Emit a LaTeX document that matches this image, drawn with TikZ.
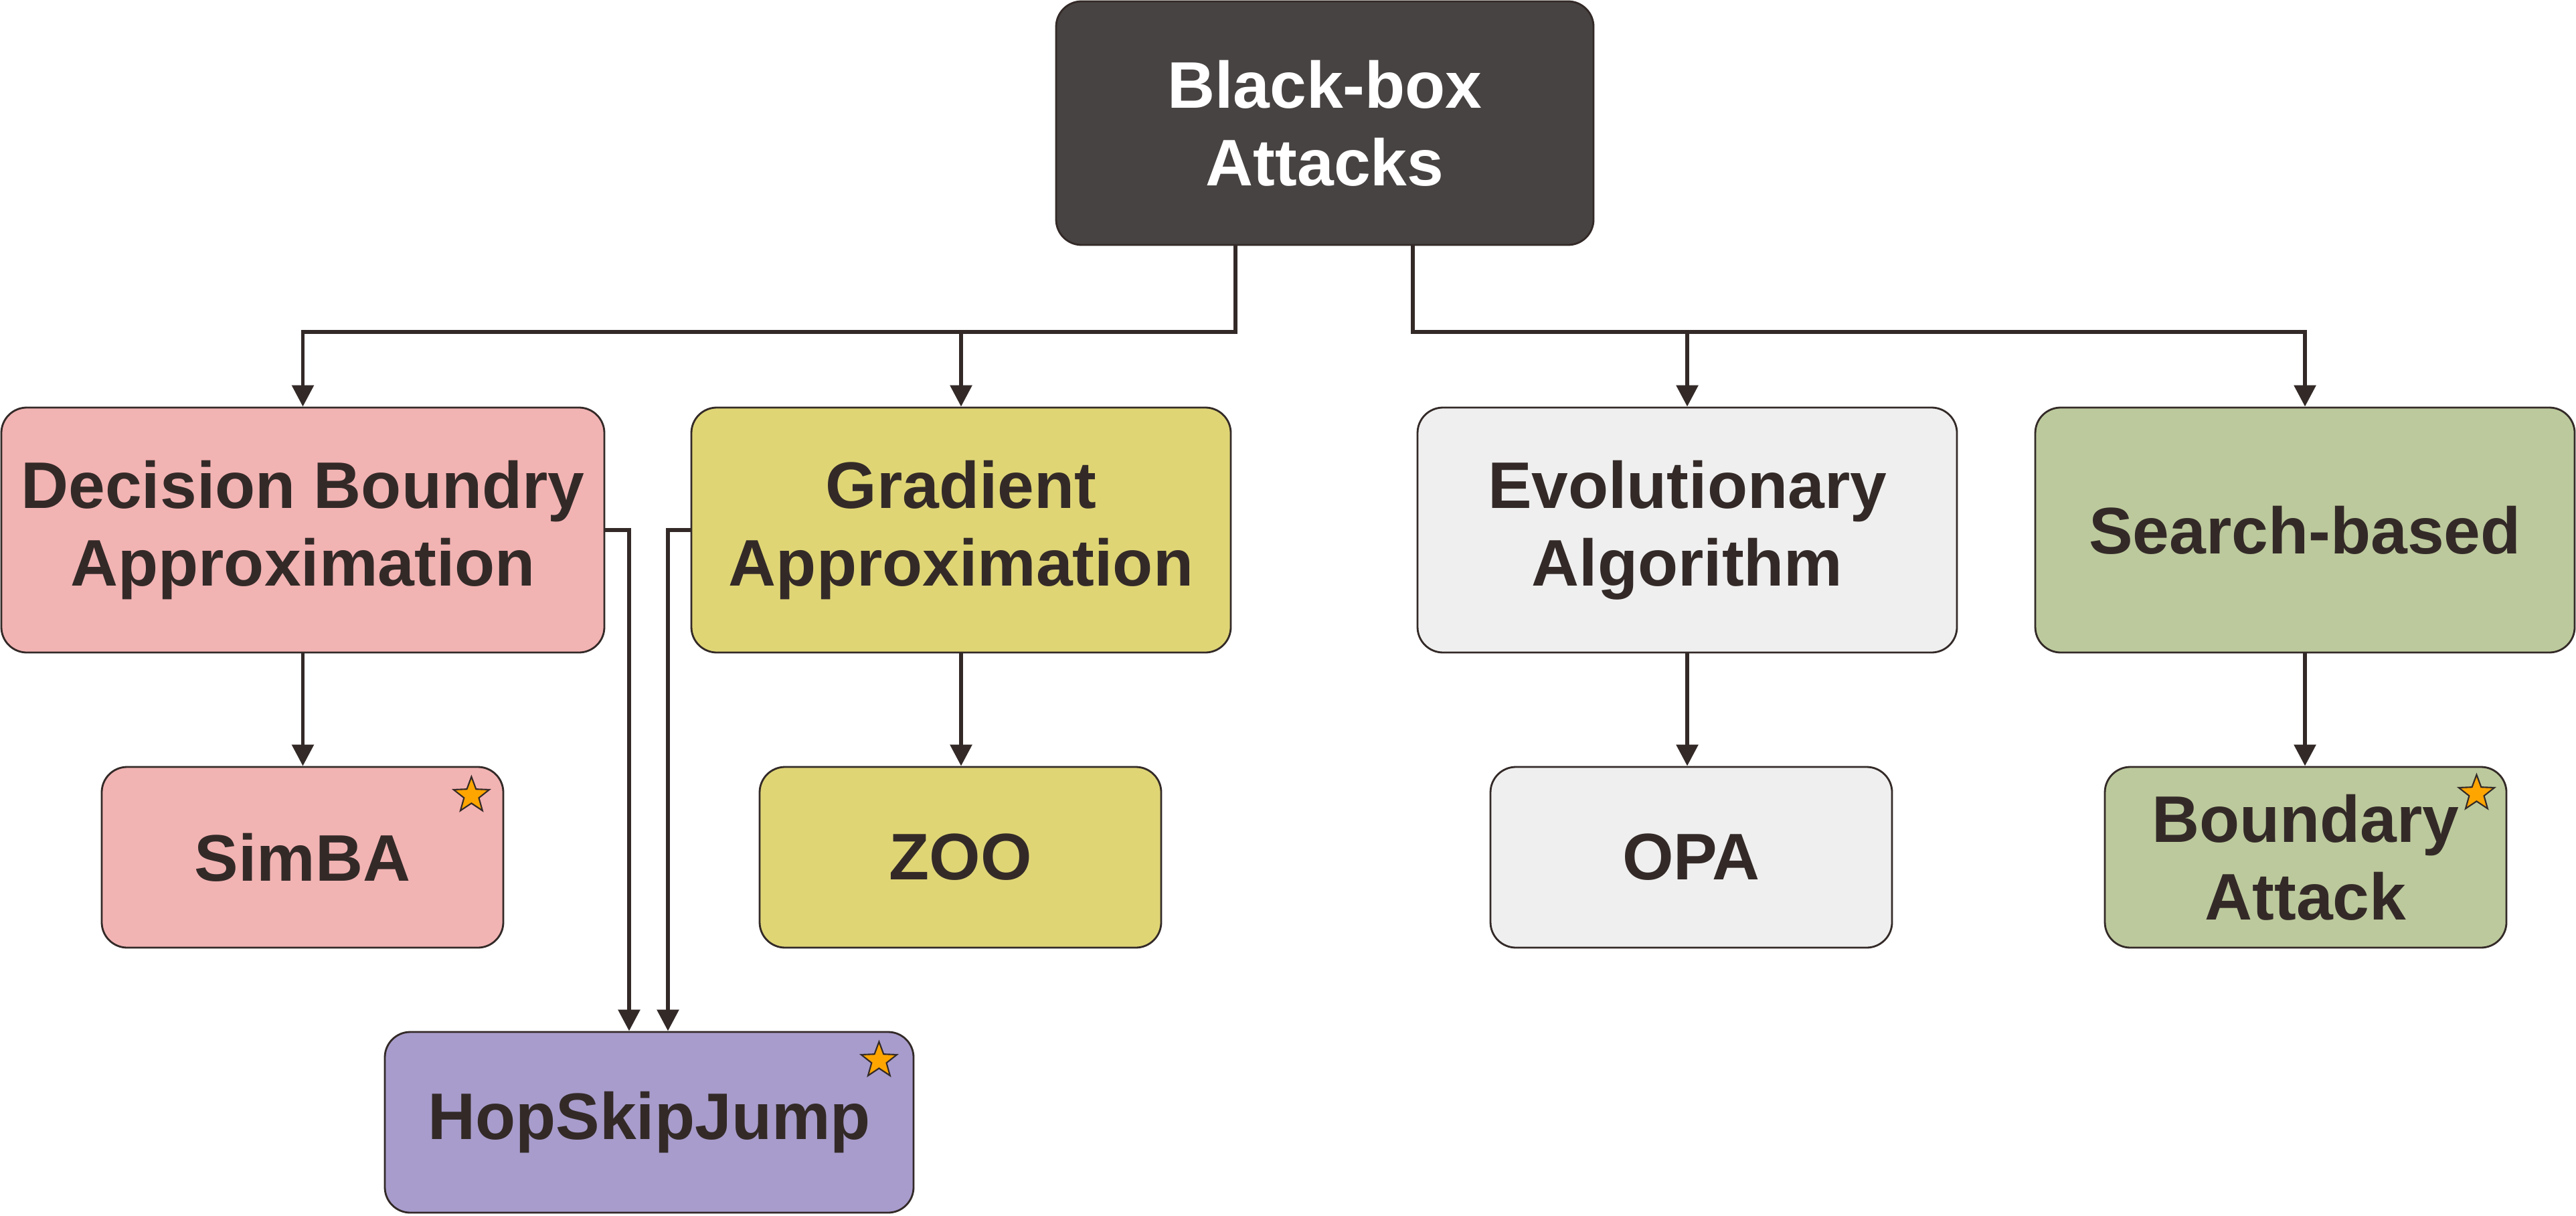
\documentclass[tikz,border=0pt]{standalone}
\usepackage{fontspec}
\setmainfont{Liberation Sans}
\usepackage{tikz}
\usetikzlibrary{arrows.meta,shapes.geometric}
\definecolor{rootgray}{HTML}{474342}
\definecolor{ink}{HTML}{332A28}
\definecolor{pinkbox}{HTML}{F2B3B3}
\definecolor{yellowbox}{HTML}{DFD575}
\definecolor{graybox}{HTML}{EFEFEF}
\definecolor{greenbox}{HTML}{BCC99C}
\definecolor{purplebox}{HTML}{A79CCB}
\definecolor{starorange}{HTML}{FFA500}

\begin{document}
\begin{tikzpicture}[
	box/.style={draw=ink,line width=0.8pt,rounded corners=0.38cm,align=center,text=ink,font=\fontsize{28}{33}\selectfont\bfseries,inner sep=0pt},
	topbox/.style={box,minimum width=8.06cm,minimum height=3.66cm},
	leafbox/.style={box,minimum width=6.0cm,minimum height=2.7cm},
	starmark/.style={star,star points=5,star point ratio=2.4,minimum size=0.56cm,inner sep=0pt,draw=ink,line width=0.6pt,fill=starorange},
	arr/.style={draw=ink,line width=1.7pt,-{Triangle[length=0.32cm,width=0.32cm]}}
]
	\useasboundingbox (0,0) rectangle (38.49,-18.16);

	\coordinate (busL) at (18.46,-4.96);
	\coordinate (busR) at (21.11,-4.96);

	\node[box,fill=rootgray,text=white,minimum width=8.03cm,minimum height=3.64cm] (root) at (19.795,-1.84) {Black-box\\Attacks};

	\node[topbox,fill=pinkbox,minimum width=9.01cm] (dba) at (4.525,-7.92) {Decision Boundry\\Approximation};
	\node[topbox,fill=yellowbox] (ga) at (14.36,-7.92) {Gradient\\Approximation};
	\node[topbox,fill=graybox] (ea) at (25.21,-7.92) {Evolutionary\\Algorithm};
	\node[topbox,fill=greenbox] (sb) at (34.44,-7.92) {Search-based};

	\node[leafbox,fill=pinkbox] (simba) at (4.52,-12.81) {SimBA};
	\node[leafbox,fill=yellowbox] (zoo) at (14.35,-12.81) {ZOO};
	\node[leafbox,fill=graybox] (opa) at (25.27,-12.81) {OPA};
	\node[leafbox,fill=greenbox] (ba) at (34.45,-12.81) {Boundary\\Attack};
	\node[leafbox,fill=purplebox,minimum width=7.9cm] (hsj) at (9.70,-16.77) {HopSkipJump};

	\node[starmark] (simbastar) at ([shift={(-0.49,-0.44)}]simba.north east) {};
	\node[starmark] (hsjstar) at ([shift={(-0.53,-0.44)}]hsj.north east) {};
	\node[starmark] (bastar) at ([shift={(-0.46,-0.41)}]ba.north east) {};

	\draw[arr] (root.south -| busL) -- (busL) -| (dba.north);
	\draw[arr] (busL -| ga.north) -- (ga.north);
	\draw[arr] (root.south -| busR) -- (busR) -| (sb.north);
	\draw[arr] (busR -| ea.north) -- (ea.north);

	\draw[arr] (dba.south) -- (dba.south |- simba.north);
	\draw[arr] (ga.south) -- (ga.south |- zoo.north);
	\draw[arr] (ea.south) -- (ea.south |- opa.north);
	\draw[arr] (sb.south) -- (sb.south |- ba.north);

	\draw[arr] (dba.east) -| ([xshift=-0.3cm]hsj.north);
	\draw[arr] (ga.west) -| ([xshift=0.28cm]hsj.north);
\end{tikzpicture}
\end{document}
